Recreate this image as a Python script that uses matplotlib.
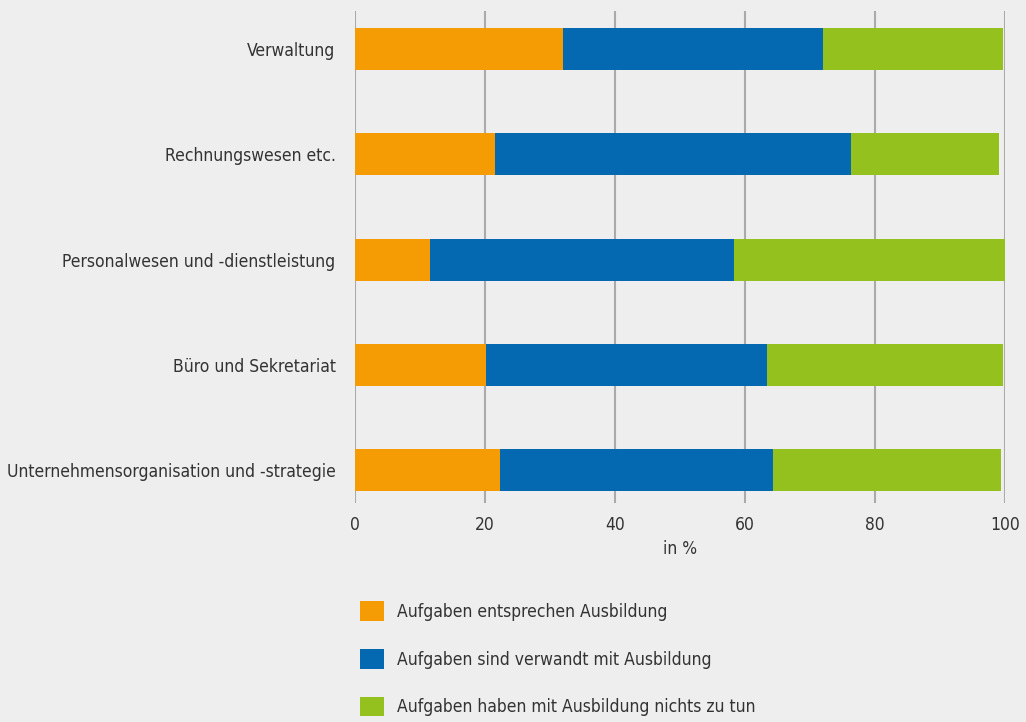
import matplotlib
matplotlib.use("Agg")
import matplotlib.pyplot as plt

# Daten (Anteile in %)
categories = ["Verwaltung", "Rechnungswesen etc.", "Personalwesen und -dienstleistung",
              "Büro und Sekretariat", "Unternehmensorganisation und -strategie"]
entsprechen = [32.0, 21.5, 11.5, 20.2, 22.3]
verwandt = [40.0, 54.8, 46.8, 43.2, 42.0]
nichts = [27.7, 22.8, 41.7, 36.3, 35.1]
series_labels = ["Aufgaben entsprechen Ausbildung",
                 "Aufgaben sind verwandt mit Ausbildung",
                 "Aufgaben haben mit Ausbildung nichts zu tun"]
colors = ["#f59c05", "#0569b2", "#95c11f"]
xticks = [0, 20, 40, 60, 80, 100]

plt.rcParams['font.family'] = ['DejaVu Sans']
plt.rcParams['font.stretch'] = 'condensed'
bg = "#eeeeee"
txt = "#333333"

fig = plt.figure(figsize=(10.26, 7.22), dpi=100, facecolor=bg)
ax = fig.add_axes([0.346, 0.3033, 0.6335, 0.6814], facecolor=bg)

y = list(range(len(categories)))
left = [0] * len(categories)
bars = []
for vals, c, lab in zip([entsprechen, verwandt, nichts], colors, series_labels):
    b = ax.barh(y, vals, left=left, height=0.4, color=c, label=lab, zorder=3)
    bars.append(b)
    left = [l + v for l, v in zip(left, vals)]

ax.set_ylim(4.31, -0.36)
ax.set_xlim(0, 100)
ax.set_xticks(xticks)
ax.set_yticks(y)
ax.set_yticklabels(categories, fontsize=12.5, color=txt)
ax.tick_params(axis='x', labelsize=12.5, colors=txt, length=0, pad=9)
ax.tick_params(axis='y', length=0, pad=14)
for s in ax.spines.values():
    s.set_visible(False)
ax.grid(axis='x', color="#aaaaaa", linewidth=1.5, zorder=0)
ax.set_xlabel("in %", fontsize=12.5, color=txt, labelpad=5)

fig.legend(handles=bars, labels=series_labels, loc='upper left',
           bbox_to_anchor=(0.351, 0.167), frameon=False, fontsize=12.5,
           handlelength=1.35, handleheight=1.35, handletextpad=0.75,
           labelspacing=1.62, labelcolor=txt, borderaxespad=0, borderpad=0)

fig.savefig("out.png", dpi=100, facecolor=bg)
